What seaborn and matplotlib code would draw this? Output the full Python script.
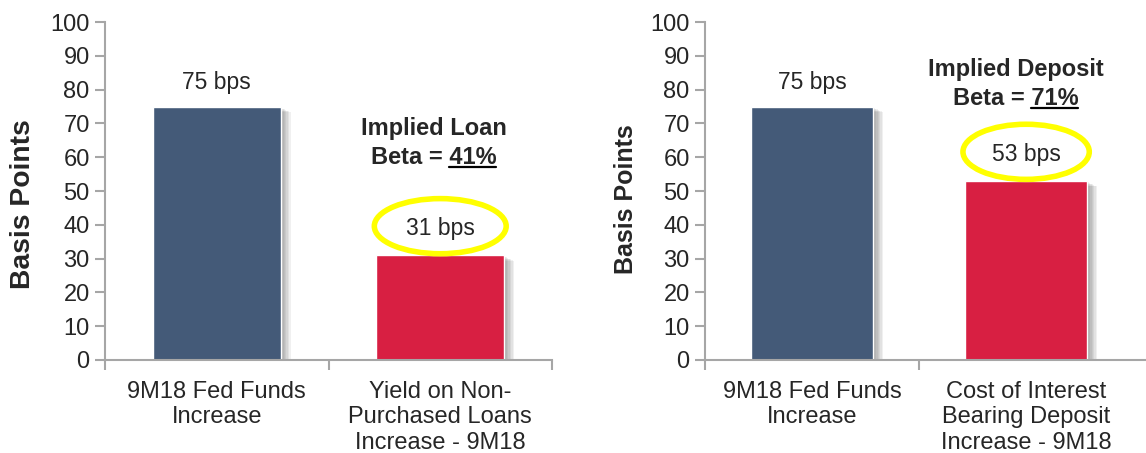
import numpy as np
import pandas as pd
import seaborn as sns
import matplotlib.pyplot as plt
from matplotlib.patches import Ellipse
import matplotlib.patheffects as pe

# Dados do gráfico
loan_labels = ["9M18 Fed Funds\nIncrease", "Yield on Non-\nPurchased Loans\nIncrease - 9M18"]
loan_values = [75, 31]
deposit_labels = ["9M18 Fed Funds\nIncrease", "Cost of Interest\nBearing Deposit\nIncrease - 9M18"]
deposit_values = [75, 53]
bar_colors = ["#445A78", "#D81F42"]
beta_titles = ["Implied Loan", "Implied Deposit"]
beta_values = ["41%", "71%"]

sns.set_style("white")
plt.rcParams['font.family'] = ['Liberation Sans', 'DejaVu Sans']

fig = plt.figure(figsize=(11.46, 4.53), dpi=100)
ax1 = fig.add_axes([105 / 1146, 0.2053, 447 / 1146, 0.7461])
ax2 = fig.add_axes([705 / 1146, 0.2053, 441 / 1146, 0.7461])

axis_gray = "#A6A6A6"

# sombra difusa das barras
shadow = [pe.SimplePatchShadow(offset=(1 + i, -1 - i * 0.5), alpha=0.07, shadow_rgbFace='#333333')
          for i in range(7)]

def draw_panel(ax, labels, values, title, beta, xmax, minor, label_size, beta_off, beta_x, label_xy):
    df = pd.DataFrame({'cat': labels, 'val': values})
    sns.barplot(data=df, x='cat', y='val', hue='cat', palette=bar_colors,
                legend=False, width=0.573, ax=ax, saturation=1)
    for p in ax.patches:
        p.set_path_effects(shadow + [pe.Normal()])
    ax.set_xlim(-0.5, xmax)
    ax.set_ylim(0, 100)
    ax.set_yticks(np.arange(0, 101, 10))
    ax.tick_params(axis='y', labelsize=17, length=7, width=1.5, color=axis_gray, direction='out',
                   left=True, pad=4)
    ax.tick_params(axis='x', labelsize=17, length=0, pad=15)
    for lbl in ax.get_xticklabels():
        lbl.set_linespacing(1.2)
    ax.set_xticks(minor, minor=True)
    ax.tick_params(axis='x', which='minor', length=7, width=1.5, color=axis_gray, direction='out', bottom=True)
    ax.set_xlabel("")
    ax.set_ylabel("Basis Points", fontsize=label_size, fontweight='bold')
    ax.yaxis.set_label_coords(*label_xy)
    for s in ['top', 'right']:
        ax.spines[s].set_visible(False)
    for s in ['left', 'bottom']:
        ax.spines[s].set_color(axis_gray)
        ax.spines[s].set_linewidth(1.5)

    # Rótulos das barras
    ax.text(0, values[0] + 7.2, f"{values[0]} bps", ha='center', va='center', fontsize=16.5)
    ax.text(1, values[1] + 7.8, f"{values[1]} bps", ha='center', va='center', fontsize=16.5, zorder=6)
    ell = Ellipse((1, values[1] + 8.6), width=0.59, height=16.3, fill=False,
                  edgecolor='#FFFF00', linewidth=4, zorder=5)
    ax.add_patch(ell)

    # Texto do beta
    ty = values[1] + beta_off
    ax.text(beta_x, ty + 8.5, title, ha='center', va='center', fontsize=17, fontweight='bold')
    t = ax.text(beta_x, ty, f"Beta = {beta}", ha='center', va='center', fontsize=17, fontweight='bold')
    fig.canvas.draw()
    r = fig.canvas.get_renderer()
    bb = t.get_window_extent(r)
    tmp = ax.text(0, 0, beta, fontsize=17, fontweight='bold')
    w = tmp.get_window_extent(r).width
    tmp.remove()
    inv = ax.transData.inverted()
    x0, y0 = inv.transform((bb.x1 - w, bb.y0 + 2))
    x1, _ = inv.transform((bb.x1, bb.y0 + 2))
    ax.plot([x0, x1], [y0, y0], color='black', linewidth=1.6, clip_on=False)

draw_panel(ax1, loan_labels, loan_values, beta_titles[0], beta_values[0],
           1.5, [-0.5, 0.5, 1.5], 20.3, 29, 0.97, (-0.155, 0.46))
draw_panel(ax2, deposit_labels, deposit_values, beta_titles[1], beta_values[1],
           1.56, [-0.5, 0.5], 18, 24.5, 0.95, (-0.152, 0.476))

fig.savefig("out.png", dpi=100)
